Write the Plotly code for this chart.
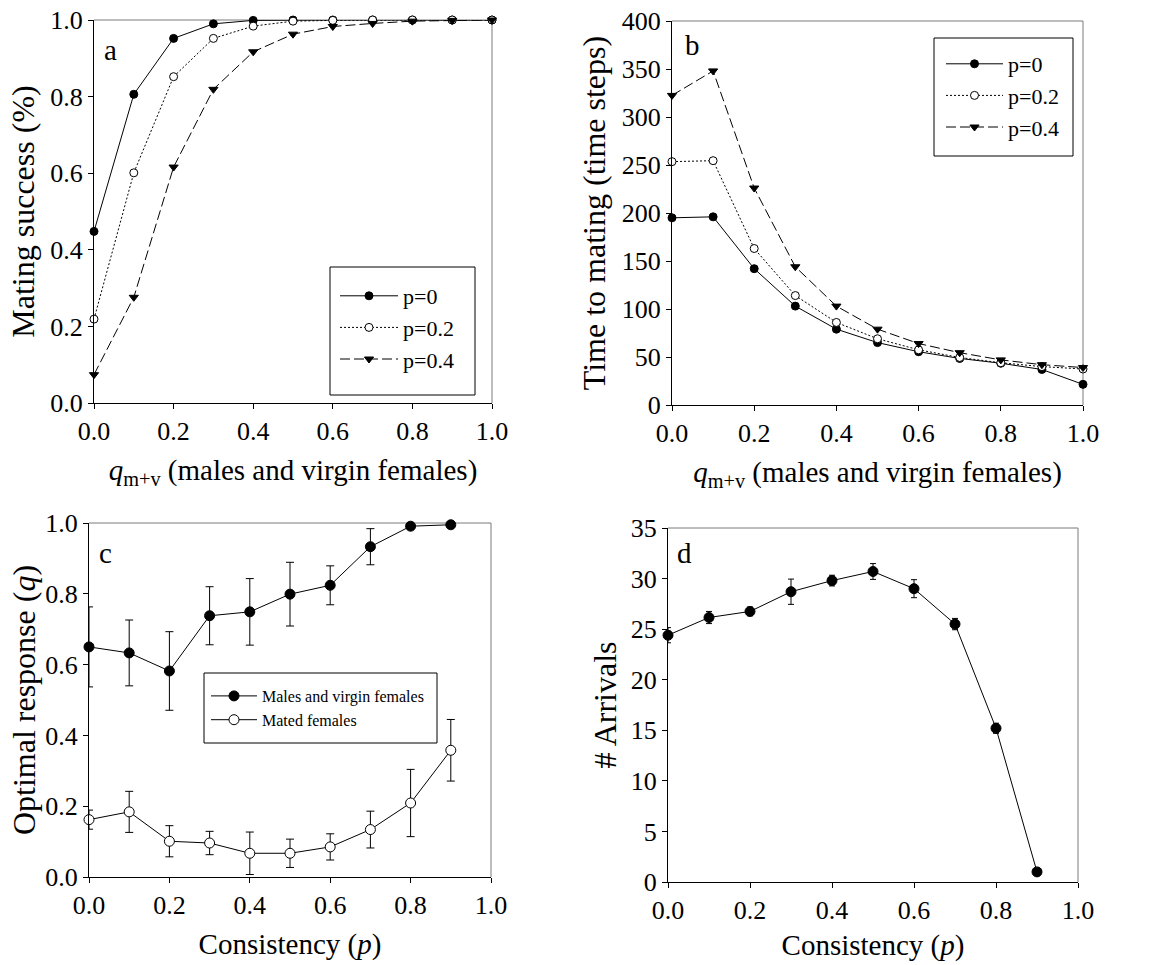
import plotly.graph_objects as go

# ---------------- data ----------------
x_q = [0.0, 0.1, 0.2, 0.3, 0.4, 0.5, 0.6, 0.7, 0.8, 0.9, 1.0]
series_names = ["p=0", "p=0.2", "p=0.4"]

# panel a: mating success
a_p0 = [0.448, 0.806, 0.952, 0.990, 0.999, 1.0, 1.0, 1.0, 1.0, 1.0, 1.0]
a_p02 = [0.219, 0.601, 0.852, 0.952, 0.984, 0.997, 0.999, 1.0, 1.0, 1.0, 1.0]
a_p04 = [0.074, 0.276, 0.616, 0.819, 0.917, 0.963, 0.983, 0.991, 0.997, 0.999, 1.0]

# panel b: time to mating
b_p0 = [195, 196, 142, 103, 79, 65, 55.5, 48.5, 43.5, 37, 21.5]
b_p02 = [253.5, 254.5, 163, 114, 86, 69, 57.5, 49.5, 44, 40, 37.5]
b_p04 = [322.5, 348, 226, 144, 103, 79, 64, 54.5, 47, 42, 39]

# panel c: optimal response
x_p = [0.0, 0.1, 0.2, 0.3, 0.4, 0.5, 0.6, 0.7, 0.8, 0.9]
c_names = ["Males and virgin females", "Mated females"]
c_mv = [0.650, 0.633, 0.582, 0.738, 0.749, 0.799, 0.824, 0.933, 0.991, 0.995]
c_mv_err = [0.113, 0.093, 0.111, 0.082, 0.094, 0.090, 0.055, 0.051, 0.0, 0.0]
c_mated = [0.162, 0.184, 0.101, 0.096, 0.067, 0.067, 0.085, 0.134, 0.209, 0.358]
c_mated_err = [0.027, 0.058, 0.044, 0.033, 0.060, 0.040, 0.037, 0.052, 0.095, 0.087]

# panel d: arrivals
d_arr = [24.4, 26.15, 26.75, 28.7, 29.8, 30.7, 29.0, 25.5, 15.2, 1.0]
d_err = [0.75, 0.6, 0.43, 1.25, 0.53, 0.78, 0.89, 0.56, 0.5, 0.0]

# ---------------- layout helpers ----------------
W, H = 1170, 965
FONT = "Liberation Serif"


def fx(px):
    return px / W


def fy(py):
    return 1 - py / H


fig = go.Figure()

line_styles = ["solid", "2px,2px", "10px,4px"]
symbols = ["circle", "circle", "triangle-down"]
fills = ["black", "white", "black"]

for name, ys, dash, sym, fill in zip(series_names, [a_p0, a_p02, a_p04], line_styles, symbols, fills):
    fig.add_trace(go.Scatter(
        x=x_q, y=ys, name=name, mode="lines+markers", xaxis="x", yaxis="y",
        line=dict(color="black", width=1, dash=dash),
        marker=dict(symbol=sym, size=8, color=fill, line=dict(color="black", width=1)),
        legend="legend", cliponaxis=False))

for name, ys, dash, sym, fill in zip(series_names, [b_p0, b_p02, b_p04], line_styles, symbols, fills):
    fig.add_trace(go.Scatter(
        x=x_q, y=ys, name=name, mode="lines+markers", xaxis="x2", yaxis="y2",
        line=dict(color="black", width=1, dash=dash),
        marker=dict(symbol=sym, size=8, color=fill, line=dict(color="black", width=1)),
        legend="legend2", cliponaxis=False))

for name, ys, err, fill in zip(c_names, [c_mv, c_mated], [c_mv_err, c_mated_err], ["black", "white"]):
    fig.add_trace(go.Scatter(
        x=x_p, y=ys, name=name, mode="lines+markers", xaxis="x3", yaxis="y3",
        line=dict(color="black", width=1),
        marker=dict(symbol="circle", size=10, color=fill, line=dict(color="black", width=1)),
        error_y=dict(type="data", array=err, visible=True, color="black", thickness=1, width=4),
        legend="legend3", cliponaxis=False))

fig.add_trace(go.Scatter(
    x=x_p, y=d_arr, name="Arrivals", mode="lines+markers", xaxis="x4", yaxis="y4",
    line=dict(color="black", width=1),
    marker=dict(symbol="circle", size=10, color="black", line=dict(color="black", width=1)),
    error_y=dict(type="data", array=d_err, visible=True, color="black", thickness=1, width=3),
    showlegend=False, cliponaxis=False))


def axis(domain, rng, dtick, anchor, title, standoff, fmt, title_size):
    return dict(
        domain=domain, range=rng, dtick=dtick, tick0=0, anchor=anchor,
        showline=True, linecolor="black", linewidth=1, mirror=False,
        ticks="outside", ticklen=5, tickcolor="black", tickwidth=1,
        showgrid=False, zeroline=False, tickformat=fmt,
        tickfont=dict(family=FONT, size=26, color="black"),
        title=dict(text=title, font=dict(family=FONT, size=title_size, color="black"), standoff=standoff),
        automargin=False)


xt_q = "<i>q</i><sub>m+v</sub> (males and virgin females)"
xt_p = "Consistency (<i>p</i>)"

legend_common = dict(
    bgcolor="rgba(0,0,0,0)", borderwidth=0,
    xanchor="left", yanchor="top", xref="paper", yref="paper")

fig.update_layout(
    width=W, height=H, margin=dict(l=0, r=0, t=0, b=0),
    paper_bgcolor="white", plot_bgcolor="white",
    font=dict(family=FONT, color="black"),
    xaxis=axis([fx(94), fx(492)], [0, 1], 0.2, "y", xt_q, 14, ".1f", 29),
    yaxis=axis([fy(403), fy(20)], [0, 1], 0.2, "x", "Mating success (%)", 6, ".1f", 32),
    xaxis2=axis([fx(672), fx(1083)], [0, 1], 0.2, "y2", xt_q, 14, ".1f", 29),
    yaxis2=axis([fy(405), fy(21)], [0, 400], 50, "x2", "Time to mating (time steps)", 6, "d", 32),
    xaxis3=axis([fx(89), fx(491)], [0, 1], 0.2, "y3", xt_p, 14, ".1f", 29),
    yaxis3=axis([fy(877), fy(523)], [0, 1], 0.2, "x3", "Optimal response (<i>q</i>)", 0, ".1f", 32),
    xaxis4=axis([fx(668), fx(1078)], [0, 1], 0.2, "y4", xt_p, 10, ".1f", 29),
    yaxis4=axis([fy(882), fy(528)], [0, 35], 5, "x4", "# Arrivals", 4, "d", 32),
    legend=dict(x=fx(335), y=fy(275), itemwidth=58,
                font=dict(family=FONT, size=22, color="black"), **legend_common),
    legend2=dict(x=fx(941), y=fy(43), itemwidth=57,
                 font=dict(family=FONT, size=22, color="black"), **legend_common),
    legend3=dict(x=fx(206), y=fy(679), itemwidth=46,
                 font=dict(family=FONT, size=16, color="black"), **legend_common),
    showlegend=True,
)

# top / right frame edges (grey, as in the reference)
for xa, ya in [("x", "y"), ("x2", "y2"), ("x3", "y3"), ("x4", "y4")]:
    fig.add_shape(type="line", xref=f"{xa} domain", yref=f"{ya} domain",
                  x0=0, x1=1, y0=1, y1=1, line=dict(color="#7a7a7a", width=1), layer="below")
    fig.add_shape(type="line", xref=f"{xa} domain", yref=f"{ya} domain",
                  x0=1, x1=1, y0=0, y1=1, line=dict(color="#7a7a7a", width=1), layer="below")

# legend frames
for x0, y0, x1, y1 in [(330, 267, 475, 395), (934, 38, 1073, 156), (204, 673, 437, 743)]:
    fig.add_shape(type="rect", xref="paper", yref="paper",
                  x0=fx(x0), x1=fx(x1), y0=fy(y1), y1=fy(y0),
                  line=dict(color="black", width=1), fillcolor="white", layer="above")

for letter, px, py in [("a", 102, 50), ("b", 683, 45), ("c", 97, 553), ("d", 675, 553)]:
    fig.add_annotation(text=letter, x=fx(px), y=fy(py), xref="paper", yref="paper",
                       xanchor="left", yanchor="middle", showarrow=False,
                       font=dict(family=FONT, size=29, color="black"))

fig.write_html("out.html")
